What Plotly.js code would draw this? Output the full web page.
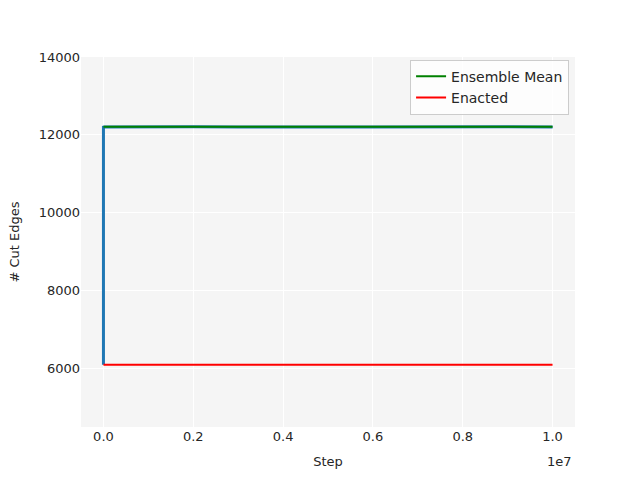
<!DOCTYPE html>
<html>
<head>
<meta charset="utf-8">
<script src="https://cdn.plot.ly/plotly-3.0.1.min.js"></script>
<style>html,body{margin:0;padding:0;background:#fff;}#chart{width:640px;height:480px;}</style>
</head>
<body>
<div id="chart"></div>
<script>
// Chain trace (sampled readings of the blue line)
const chainSteps = [0, 1, 20000, 500000, 1000000, 2000000, 3000000, 4000000, 5000000, 6000000, 7000000, 8000000, 9000000, 10000000];
const chainCutEdges = [6100, 12200, 12205, 12210, 12200, 12208, 12203, 12210, 12205, 12200, 12207, 12204, 12209, 12205];
// Ensemble mean and enacted plan
const meanSteps = [0, 10000000];
const ensembleMean = [12210, 12210];
const enactedSteps = [0, 10000000];
const enacted = [6100, 6100];
// Tick labels
const xTickVals = [0, 2000000, 4000000, 6000000, 8000000, 10000000];
const xTickText = ["0.0", "0.2", "0.4", "0.6", "0.8", "1.0"];
const yTickVals = [6000, 8000, 10000, 12000, 14000];
const yTickText = ["6000", "8000", "10000", "12000", "14000"];

const font = {family: "DejaVu Sans, sans-serif", size: 13, color: "#262626"};
const legendFont = {family: "DejaVu Sans, sans-serif", size: 14, color: "#262626"};

const traces = [
  {x: chainSteps, y: chainCutEdges, mode: "lines", line: {color: "#1f77b4", width: 3}, showlegend: false, hoverinfo: "skip"},
  {x: meanSteps, y: ensembleMean, mode: "lines", name: "Ensemble Mean", line: {color: "#008000", width: 2}},
  {x: enactedSteps, y: enacted, mode: "lines", name: "Enacted", line: {color: "#ff0000", width: 2}}
];

const layout = {
  width: 640, height: 480,
  margin: {l: 81, r: 64.5, t: 57, b: 53},
  paper_bgcolor: "#ffffff",
  plot_bgcolor: "#f5f5f5",
  font: font,
  showlegend: true,
  xaxis: {
    range: [-500000, 10500000],
    tickvals: xTickVals, ticktext: xTickText,
    showgrid: true, gridcolor: "#ffffff", gridwidth: 1,
    zeroline: false, showline: false, ticks: "", ticklen: 0,
    tickfont: font,
    title: {text: "Step", font: font, standoff: 13}
  },
  yaxis: {
    range: [4500, 14000],
    tickvals: yTickVals, ticktext: yTickText,
    showgrid: true, gridcolor: "#ffffff", gridwidth: 1,
    zeroline: false, showline: false, ticks: "", ticklen: 0,
    tickfont: font,
    title: {text: "# Cut Edges", font: font, standoff: 16}
  },
  legend: {
    x: 0.988, y: 0.993, xanchor: "right", yanchor: "top",
    bgcolor: "rgba(255,255,255,0.8)", bordercolor: "#cccccc", borderwidth: 1,
    font: legendFont, itemwidth: 30, tracegroupgap: 0
  },
  annotations: [
    {text: "1e7", xref: "paper", yref: "paper", x: 0.997, y: 0, xanchor: "right", yanchor: "top", yshift: -25, showarrow: false, font: font}
  ]
};

Plotly.newPlot("chart", traces, layout, {displayModeBar: false, staticPlot: true});
</script>
</body>
</html>
